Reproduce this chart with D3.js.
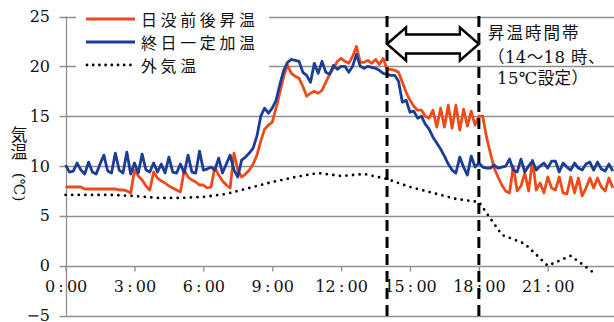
<!DOCTYPE html>
<html><head><meta charset="utf-8">
<script src="https://cdn.jsdelivr.net/npm/d3@7"></script>
<style>
html,body{margin:0;padding:0;background:#fff;}
svg{display:block;}
</style></head>
<body>
<svg id="chart" width="614" height="322"></svg>
<script>
// ---- data ----
const seriesNames = ["日没前後昇温", "終日一定加温", "外気温"];
// 10-minute samples from 0:00 to 23:50
const sunsetHeating = [
 7.9,7.9,7.9,7.9,7.9,7.7,7.7,7.7,7.7,7.7,7.7,7.7,
 7.7,7.7,7.6,7.6,7.5,7.3,9.6,9.0,8.6,8.0,7.6,9.4,
 8.8,8.5,8.3,8.0,7.8,7.6,7.4,9.6,8.9,8.6,8.4,8.1,
 8.1,7.8,7.9,9.9,9.1,8.5,8.1,7.8,11.3,9.6,8.9,9.2,
 9.6,10.2,11.1,12.5,13.7,14.1,14.4,15.8,17.4,19.0,20.1,19.3,
 19.0,18.8,18.0,17.0,17.3,17.5,17.3,17.6,18.4,19.2,19.8,20.5,
 20.8,20.5,20.3,21.0,22.0,20.4,20.4,20.6,20.3,20.7,20.2,20.8,
 19.7,19.7,19.6,19.4,18.4,17.4,16.6,16.0,15.6,15.6,15.0,14.8,
 15.6,13.9,15.8,13.9,16.1,13.8,16.1,13.6,15.7,14.0,15.5,14.1,
 15.0,15.0,12.9,11.3,9.8,8.9,8.1,7.5,7.3,10.0,7.5,8.0,
 9.3,7.5,10.6,7.6,8.3,7.3,8.9,7.8,7.6,8.9,7.3,7.2,
 8.9,7.3,8.8,7.0,7.8,8.8,7.8,8.8,7.9,7.5,8.8,7.8
];
const constantHeating = [
 10.1,9.4,9.5,10.3,9.6,9.2,10.4,9.4,9.2,10.2,11.1,9.5,
 9.3,11.3,9.6,9.3,11.4,9.2,10.3,9.3,11.2,9.6,9.4,10.3,
 9.4,10.2,9.3,10.9,9.4,9.3,10.2,9.3,11.1,9.4,9.3,11.5,
 9.6,9.7,9.9,9.6,10.8,9.3,10.2,11.1,9.6,8.9,10.6,10.9,
 11.3,11.8,13.0,15.0,15.8,15.3,15.8,16.6,18.2,19.6,20.4,20.7,
 20.6,20.5,19.4,19.1,18.4,20.3,19.3,20.5,19.4,19.2,20.1,19.7,
 20.0,20.0,19.4,20.0,21.2,20.0,19.8,20.0,19.9,19.8,19.6,19.3,
 19.2,19.1,19.1,18.5,16.4,16.6,15.4,15.5,14.8,15.0,14.2,13.7,
 12.9,12.3,11.7,11.0,10.2,9.6,9.3,10.9,9.9,9.1,11.0,9.9,
 10.3,9.9,9.8,9.8,10.1,9.8,9.9,10.0,10.7,9.6,9.4,10.7,
 9.4,10.0,10.5,9.6,10.0,10.3,9.8,10.5,10.5,9.4,10.3,9.9,
 9.6,10.3,9.8,9.6,10.2,10.4,9.6,10.4,9.7,9.5,10.2,9.5
];
const sampleMinutes = d3.range(0, 1440, 10);
// outside air temperature, hourly
const outsideHours = [0,1,2,3,4,5,6,7,8,9,10,11,12,13,14,15,16,17,18,19,20,21,22,23];
const outsideTemp = [7.1,7.1,7.1,7.0,6.8,6.8,6.9,7.2,7.8,8.4,8.9,9.3,9.0,9.2,8.7,7.9,7.3,6.7,6.4,3.1,2.2,0.0,1.0,-0.7];
const xTickHours = [0,3,6,9,12,15,18,21];
const xTickLabels = ["0:00","3:00","6:00","9:00","12:00","15:00","18:00","21:00"];
const yTicks = [-5,0,5,10,15,20,25];
const heatStart = 14, heatEnd = 18;
const annotationLines = ["昇温時間帯", "（14〜18 時、", "15℃設定）"];

// ---- drawing ----
const svg = d3.select("#chart");
const W = 614, H = 322;
const ORANGE = "#EE4B1A", BLUE = "#1B3D96", GRID = "#8f8f8f";
const serif = "'DejaVu Serif','Noto Sans CJK JP',serif";
const cjk = "'Noto Sans CJK JP','DejaVu Sans',sans-serif";

const x = d3.scaleLinear().domain([0, 1440]).range([65.6, 65.6 + 24 * 22.96]);
const y = d3.scaleLinear().domain([-5, 25]).range([315.6, 16.5]);

svg.append("rect").attr("width", W).attr("height", H).attr("fill", "#fff");

// gridlines
svg.append("g").selectAll("line").data(yTicks).join("line")
  .attr("x1", 59.5).attr("x2", W)
  .attr("y1", d => Math.round(y(d)) + 0.5).attr("y2", d => Math.round(y(d)) + 0.5)
  .attr("stroke", GRID).attr("stroke-width", 1.3);

// y axis line
svg.append("line").attr("x1", Math.round(x(0)) + 0.5).attr("x2", Math.round(x(0)) + 0.5)
  .attr("y1", y(25)).attr("y2", y(-5)).attr("stroke", GRID).attr("stroke-width", 1.3);

// y labels
svg.append("g").selectAll("text").data(yTicks).join("text")
  .attr("x", 50).attr("y", d => y(d))
  .attr("text-anchor", "end").attr("dominant-baseline", "central")
  .attr("font-family", serif).attr("font-size", 16).attr("fill", "#111")
  .text(d => d < 0 ? "\u2212" + Math.abs(d) : d);

// x axis ticks & labels
const xAxis = d3.axisBottom(x)
  .tickValues(xTickHours.map(h => h * 60))
  .tickFormat((d, i) => xTickLabels[i].replace(":", "\u2009:\u2009"))
  .tickSize(5).tickSizeOuter(0).tickPadding(9);
const gx = svg.append("g").attr("transform", `translate(0,${Math.round(y(0)) + 0.5})`).call(xAxis);
gx.select(".domain").remove();
gx.selectAll(".tick line").attr("stroke", GRID).attr("stroke-width", 1.3);
gx.selectAll(".tick text").attr("font-family", serif).attr("font-size", 16).attr("fill", "#111");

// y title: 気温 upright (vertical), (℃) rotated
svg.append("text").attr("x", 19).attr("y", 126)
  .attr("writing-mode", "vertical-rl").style("writing-mode", "vertical-rl")
  .attr("font-family", cjk).attr("font-size", 17).attr("fill", "#111").text("気温");
svg.append("text").attr("transform", "translate(19,187) rotate(90)").attr("text-anchor", "middle")
  .attr("dominant-baseline", "central").attr("font-family", serif).attr("font-size", 15).attr("fill", "#111").text("(℃)");

// series lines
const line = d3.line().x((d, i) => x(sampleMinutes[i])).y(d => y(d)).defined(d => d != null);
svg.append("path").datum(sunsetHeating).attr("d", line)
  .attr("fill", "none").attr("stroke", ORANGE).attr("stroke-width", 2.8).attr("stroke-linejoin", "round");
svg.append("path").datum(constantHeating).attr("d", line)
  .attr("fill", "none").attr("stroke", BLUE).attr("stroke-width", 2.8).attr("stroke-linejoin", "round");
const oLine = d3.line().x((d, i) => x(outsideHours[i] * 60)).y(d => y(d));
svg.append("path").datum(outsideTemp).attr("d", oLine)
  .attr("fill", "none").attr("stroke", "#000").attr("stroke-width", 2.8)
  .attr("stroke-linecap", "round").attr("stroke-dasharray", "0,6.6");

// dashed vertical lines
[heatStart, heatEnd].forEach(h => {
  svg.append("line").attr("x1", x(h * 60)).attr("x2", x(h * 60))
    .attr("y1", 16).attr("y2", H)
    .attr("stroke", "#000").attr("stroke-width", 3).attr("stroke-dasharray", "11,6");
});

// double arrow
const ax0 = x(heatStart * 60), ax1 = x(heatEnd * 60);
const ay = 44, headW = 19, headH = 16.5, shaftH = 9.5;
const arrowPts = [
  [ax0, ay], [ax0 + headW, ay - headH], [ax0 + headW, ay - shaftH],
  [ax1 - headW, ay - shaftH], [ax1 - headW, ay - headH], [ax1, ay],
  [ax1 - headW, ay + headH], [ax1 - headW, ay + shaftH],
  [ax0 + headW, ay + shaftH], [ax0 + headW, ay + headH]
];
svg.append("polygon").attr("points", arrowPts.map(p => p.join(",")).join(" "))
  .attr("fill", "#fff").attr("stroke", "#000").attr("stroke-width", 2.4).attr("stroke-linejoin", "miter");

// annotation
const annY = [33.5, 57.5, 78];
const annX = [488, 488, 497];
annotationLines.forEach((t, i) => {
  svg.append("text").attr("x", annX[i]).attr("y", annY[i]).attr("dominant-baseline", "central")
    .attr("font-family", serif).attr("font-size", 16.5).attr("letter-spacing", i === 0 ? 2 : 0.4)
    .attr("fill", "#111").text(t);
});

// legend
const lg = svg.append("g");
lg.append("rect").attr("x", 76).attr("y", 6).attr("width", 193).attr("height", 70).attr("fill", "#fff");
const legY = [19, 42, 65];
const legColors = [ORANGE, BLUE, "#000"];
seriesNames.forEach((name, i) => {
  const l = lg.append("line").attr("x1", 86).attr("x2", 135).attr("y1", legY[i]).attr("y2", legY[i])
    .attr("stroke", legColors[i]).attr("stroke-width", 2.8);
  if (i === 2) l.attr("stroke-linecap", "round").attr("stroke-dasharray", "0,6.2").attr("x1", 87);
  lg.append("text").attr("x", 141).attr("y", legY[i]).attr("dominant-baseline", "central")
    .attr("font-family", cjk).attr("font-size", 16).attr("letter-spacing", 3.6).attr("fill", "#111").text(name);
});
</script>
</body></html>
